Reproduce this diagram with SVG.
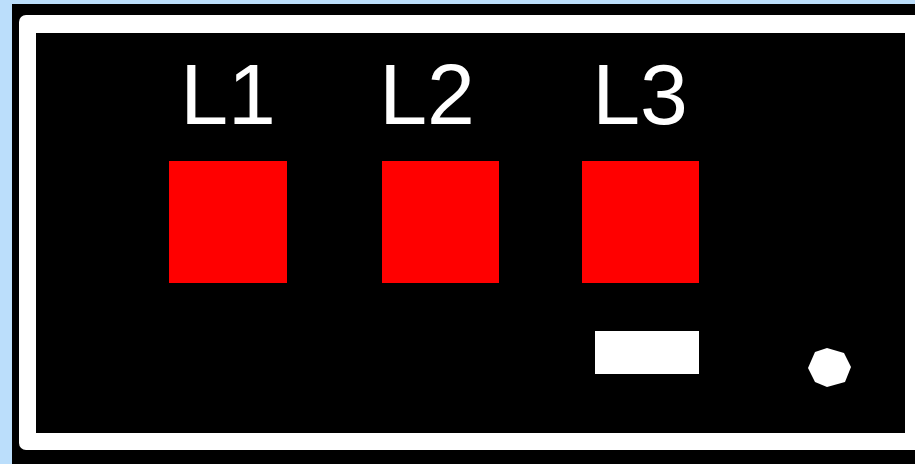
<svg xmlns="http://www.w3.org/2000/svg" width="915" height="464" viewBox="0 0 915 464">
  <style>
    .lamp { fill: #ff0000; }
    .label { font-family: "Liberation Sans", Arial, sans-serif; font-size: 86px; fill: #ffffff; text-anchor: middle; }
  </style>
  <rect x="0" y="0" width="915" height="464" fill="#bbdefb"/>
  <g id="panel">
    <rect x="12" y="4" width="910" height="470" fill="#000000"/>
    <rect x="19" y="15" width="910" height="435" rx="7" ry="7" fill="#ffffff"/>
    <rect x="36" y="33" width="869" height="400" fill="#000000"/>
  </g>
  <g id="L1">
    <text class="label" x="228" y="124">L1</text>
    <rect class="lamp" x="169" y="161" width="118" height="122"/>
  </g>
  <g id="L2">
    <text class="label" x="427" y="124">L2</text>
    <rect class="lamp" x="382" y="161" width="117" height="122"/>
  </g>
  <g id="L3">
    <text class="label" x="640" y="124">L3</text>
    <rect class="lamp" x="582" y="161" width="117" height="122"/>
  </g>
  <g id="slot">
    <rect x="595" y="331" width="104" height="43" fill="#ffffff"/>
  </g>
  <g id="knob">
    <polygon points="815,352 827,348 844,353 851,367 845,382 827,387 815,382 808,368" fill="#ffffff"/>
  </g>
  <g id="connectors"/>
</svg>
